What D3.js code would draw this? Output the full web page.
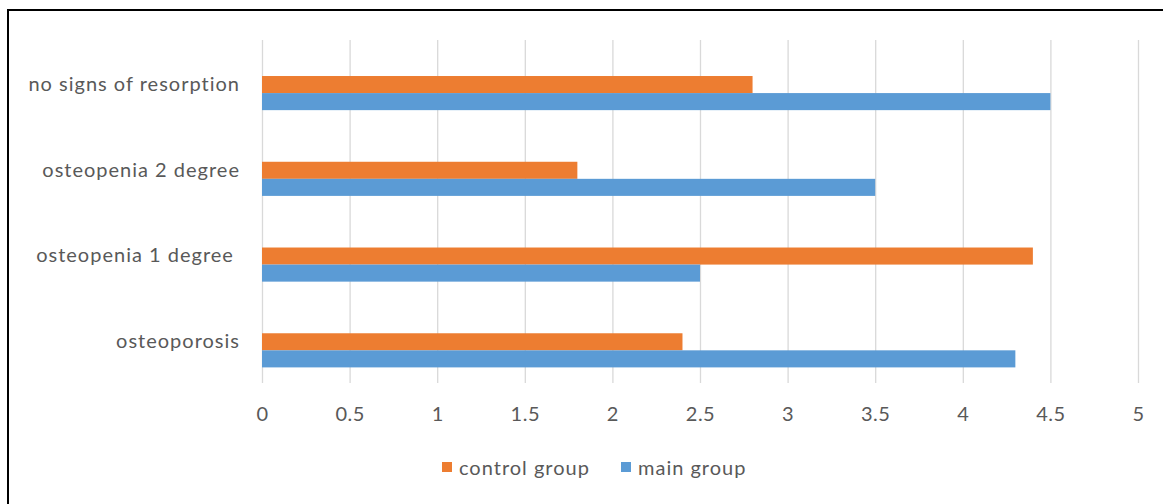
<!DOCTYPE html>
<html>
<head>
<meta charset="utf-8">
<script src="https://cdn.jsdelivr.net/npm/d3@7"></script>
<style>
  body { margin: 0; background: #fff; }
  svg { display: block; }
  text { font-family: Lato, "Open Sans", sans-serif; fill: #595959; }
</style>
</head>
<body>
<svg id="chart" width="1163" height="504"></svg>
<script>
// data
const categories = ['no signs of resorption', 'osteopenia 2 degree', 'osteopenia 1 degree ', 'osteoporosis'];
const seriesNames = ['control group', 'main group'];
const controlValues = [2.8, 1.8, 4.4, 2.4];
const mainValues = [4.5, 3.5, 2.5, 4.3];
const xTicks = [0, 0.5, 1, 1.5, 2, 2.5, 3, 3.5, 4, 4.5, 5];

const cs = {
  palette: { 'control group': '#ED7D31', 'main group': '#5B9BD5', grid: '#D9D9D9' },
  plot: { left: 262, right: 1138, top: 40, bottom: 383 },
  fontSize: 20,
  font: 'Lato, "Open Sans", sans-serif',
};

const svg = d3.select('#chart');

// outer frame
svg.append('rect')
  .attr('x', 8).attr('y', 10)
  .attr('width', 1200).attr('height', 600)
  .attr('fill', 'none').attr('stroke', '#000').attr('stroke-width', 2);

const x = d3.scaleLinear().domain([0, 5]).range([cs.plot.left, cs.plot.right]);
const y = d3.scaleBand().domain(categories).range([cs.plot.top, cs.plot.bottom]);
const bw = y.bandwidth();
const ySeries = d3.scaleBand().domain(seriesNames).range([bw * 0.42, bw * 0.818]);

const styleText = sel => sel
  .attr('font-size', cs.fontSize).attr('fill', '#595959')
  .style('font-family', cs.font).style('letter-spacing', '1px');

// vertical gridlines + tick labels
const xAxis = d3.axisBottom(x).tickValues(xTicks).tickFormat(d3.format('')).tickSize(cs.plot.bottom - cs.plot.top).tickPadding(24);
const gx = svg.append('g').attr('transform', `translate(0,${cs.plot.top})`).call(xAxis);
gx.select('.domain').remove();
gx.selectAll('.tick line').attr('stroke', cs.palette.grid).attr('stroke-width', 1.3);
gx.selectAll('.tick text').call(styleText).style('letter-spacing', '0.5px');

// category labels
const yAxis = d3.axisLeft(y).tickSize(0).tickPadding(22);
const gy = svg.append('g').attr('transform', `translate(${cs.plot.left},0)`).call(yAxis);
gy.select('.domain').remove();
gy.selectAll('.tick text').call(styleText).style('white-space', 'pre').attr('dy', '0.4em');

// bars
const rows = categories.map((c, i) => ({ cat: c, values: [
  { s: 'control group', v: controlValues[i] },
  { s: 'main group', v: mainValues[i] },
] }));

svg.append('g').selectAll('g').data(rows).join('g')
  .attr('transform', d => `translate(0,${y(d.cat)})`)
  .selectAll('rect').data(d => d.values).join('rect')
  .attr('x', x(0))
  .attr('y', d => ySeries(d.s))
  .attr('width', d => x(d.v) - x(0))
  .attr('height', ySeries.bandwidth())
  .attr('fill', d => cs.palette[d.s]);

// legend
const legendX = d3.scaleOrdinal().domain(seriesNames).range([442, 621]);
const lg = svg.append('g').selectAll('g').data(seriesNames).join('g')
  .attr('transform', d => `translate(${legendX(d)},462)`);
lg.append('rect').attr('width', 10).attr('height', 10).attr('fill', d => cs.palette[d]);
lg.append('text').attr('x', 17).attr('y', 5).attr('dy', '0.38em')
  .call(styleText).text(d => d);
</script>
</body>
</html>
